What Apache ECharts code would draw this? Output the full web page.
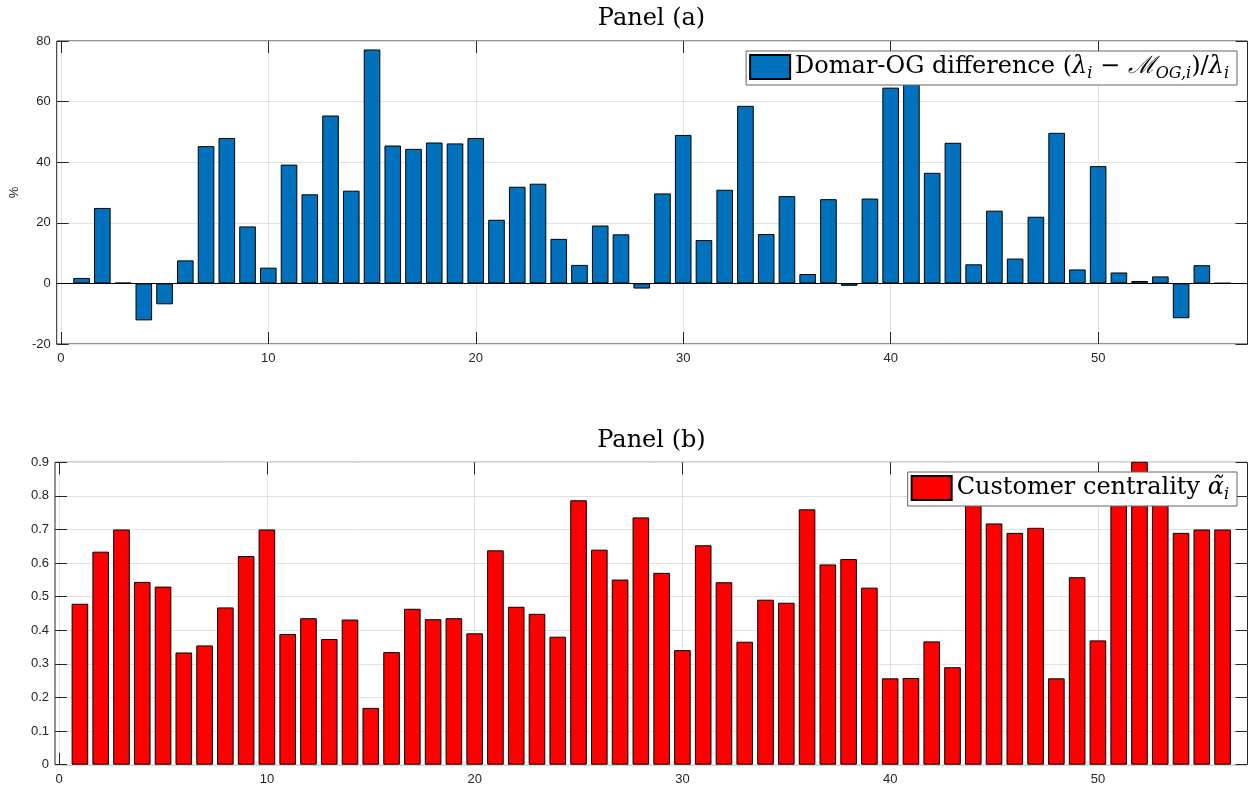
<!DOCTYPE html>
<html>
<head>
<meta charset="utf-8">
<script src="https://cdn.jsdelivr.net/npm/echarts@6/dist/echarts.min.js"></script>
<style>
html,body{margin:0;padding:0;background:#fff;}
#chart{width:1249px;height:791px;}
</style>
</head>
<body>
<div id="chart"></div>
<script>
// ---- data ----
const sectors = [1,2,3,4,5,6,7,8,9,10,11,12,13,14,15,16,17,18,19,20,21,22,23,24,25,26,27,28,29,30,31,32,33,34,35,36,37,38,39,40,41,42,43,44,45,46,47,48,49,50,51,52,53,54,55,56];
const domarOgDiff = [1.8,24.9,0.2,-12.2,-6.9,7.6,45.3,48.0,18.8,5.2,39.2,29.4,55.4,30.6,77.2,45.5,44.4,46.5,46.2,48.0,21.0,31.9,32.9,14.7,6.1,19.1,16.2,-1.7,29.7,49.0,14.3,30.9,58.6,16.3,28.8,3.1,27.8,-0.8,28.0,64.6,66.0,36.5,46.4,6.3,24.0,8.2,22.0,49.7,4.6,38.7,3.6,0.8,2.3,-11.5,6.0,0.1];
const customerCentrality = [0.479,0.634,0.70,0.544,0.530,0.334,0.355,0.468,0.621,0.70,0.389,0.436,0.374,0.432,0.169,0.335,0.464,0.433,0.436,0.391,0.638,0.470,0.449,0.381,0.787,0.640,0.551,0.736,0.571,0.341,0.653,0.543,0.366,0.491,0.482,0.760,0.596,0.612,0.527,0.257,0.258,0.367,0.290,0.80,0.718,0.690,0.705,0.257,0.558,0.370,0.82,0.95,0.80,0.690,0.70,0.70];
const xTicks = [0,10,20,30,40,50];
const titleA = 'Panel (a)';
const titleB = 'Panel (b)';
const legendA = 'Domar-OG difference';
const legendB = 'Customer centrality';
const yNameA = '%';

// ---- styling ----
const AX = '#262626';
const GRIDC = '#e1e1e1';
const SERIF = 'DejaVu Serif';
const SANS = 'Liberation Sans';
const X_MIN = -0.2, X_MAX = 57.2;

function xBottom(gridIndex){
  return {
    type:'value', gridIndex, min:X_MIN, max:X_MAX, position:'bottom',
    axisLine:{show:false, onZero:false},
    axisTick:{show:true, inside:true, length:12, customValues:xTicks, lineStyle:{color:AX}},
    axisLabel:{show:true, customValues:xTicks, color:AX, fontFamily:SANS, fontSize:13, margin:8},
    splitLine:{show:true, lineStyle:{color:GRIDC, width:1}}
  };
}
function xTop(gridIndex){
  return {
    type:'value', gridIndex, min:X_MIN, max:X_MAX, position:'top',
    axisLine:{show:false, onZero:false},
    axisTick:{show:true, inside:true, length:12, customValues:xTicks, lineStyle:{color:AX}},
    axisLabel:{show:false}, splitLine:{show:false}
  };
}
function yAxisDef(gridIndex, min, max, interval, pos, showLabel, fmt){
  return {
    type:'value', gridIndex, min, max, interval, position:pos,
    axisLine:{show:false, onZero:false},
    axisTick:{show:true, inside:true, length:12, lineStyle:{color:AX}},
    axisLabel:{show:showLabel, color:AX, fontFamily:SANS, fontSize:13, margin:6, formatter:fmt},
    splitLine:{show:pos==='left', lineStyle:{color:GRIDC, width:1}}
  };
}

const richStyles = {
  t:{fontFamily:SERIF, fontSize:24, lineHeight:30, color:'#000'},
  m:{fontFamily:SERIF, fontStyle:'italic', fontSize:24, lineHeight:30, color:'#000'},
  s:{fontFamily:SERIF, fontStyle:'italic', fontSize:16, lineHeight:15, verticalAlign:'bottom', color:'#000'}
};

const option = {
  animation:false,
  backgroundColor:'#fff',
  grid:[
    {left:55, top:41, width:1192.5, height:303, show:true, borderColor:AX, borderWidth:1, backgroundColor:'transparent'},
    {left:55, top:462.3, width:1192.5, height:302.4, show:true, borderColor:AX, borderWidth:1, backgroundColor:'transparent'}
  ],
  xAxis:[xBottom(0), xTop(0), xBottom(1), xTop(1)],
  yAxis:[
    Object.assign(yAxisDef(0,-20,80,20,'left',true), {name:yNameA, nameLocation:'middle', nameGap:31, nameRotate:90, nameTextStyle:{color:AX, fontFamily:SANS, fontSize:13}}),
    yAxisDef(0,-20,80,20,'right',false),
    yAxisDef(1,0,0.9,0.1,'left',true, v => (v===0?'0':v.toFixed(1))),
    yAxisDef(1,0,0.9,0.1,'right',false)
  ],
  legend:[
    {
      data:[legendA], right:12, top:51, orient:'horizontal',
      itemWidth:40, itemHeight:24, icon:'rect',
      backgroundColor:'#fff', borderColor:'#666', borderWidth:1, padding:[3,8,3,3],
      formatter: () => '{t|Domar-OG difference (}{m|λ}{s|i}{t| − }{m|ℳ}{s|OG,i}{t|)/}{m|λ}{s|i}',
      textStyle:{rich:richStyles}
    },
    {
      data:[legendB], right:12, top:472, orient:'horizontal',
      itemWidth:40, itemHeight:24, icon:'rect',
      backgroundColor:'#fff', borderColor:'#666', borderWidth:1, padding:[3,8,3,3],
      formatter: () => '{t|Customer centrality }{m|α̃}{s|i}',
      textStyle:{rich:richStyles}
    }
  ],
  graphic:[
    {type:'text', x:651.5, y:19, style:{text:titleA, align:'center', verticalAlign:'middle', font:'24px "DejaVu Serif"', fill:'#000'}},
    {type:'text', x:651.5, y:441, style:{text:titleB, align:'center', verticalAlign:'middle', font:'24px "DejaVu Serif"', fill:'#000'}}
  ],
  series:[
    {
      name:legendA, type:'bar', xAxisIndex:0, yAxisIndex:0,
      data: sectors.map((s,i)=>[s, domarOgDiff[i]]),
      barWidth:16.6,
      itemStyle:{color:'#0072BD', borderColor:'#000', borderWidth:1},
      clip:true,
      markLine:{silent:true, symbol:'none', label:{show:false}, lineStyle:{color:'#000', width:1, type:'solid'}, data:[{yAxis:0}]}
    },
    {
      name:legendB, type:'bar', xAxisIndex:2, yAxisIndex:2,
      data: sectors.map((s,i)=>[s, customerCentrality[i]]),
      barWidth:16.6,
      itemStyle:{color:'#FF0000', borderColor:'#000', borderWidth:1},
      clip:true
    }
  ]
};

const chart = echarts.init(document.getElementById('chart'), null, {renderer:'canvas'});
chart.setOption(option);
</script>
</body>
</html>
